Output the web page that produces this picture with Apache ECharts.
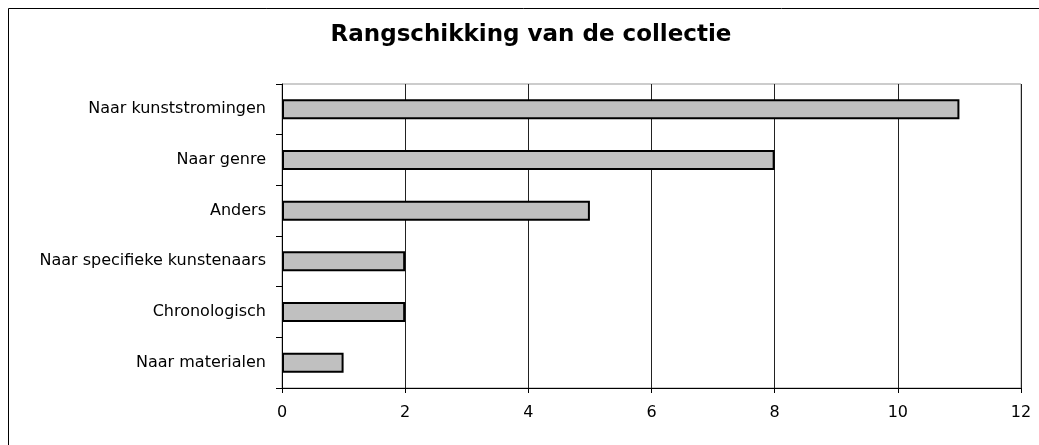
<!DOCTYPE html>
<html>
<head>
<meta charset="utf-8">
<script src="https://cdn.jsdelivr.net/npm/echarts@6/dist/echarts.min.js"></script>
<style>html,body{margin:0;padding:0;background:#fff;}#c{width:1039px;height:445px;}</style>
</head>
<body>
<div id="c"></div>
<script>
const titleText = 'Rangschikking van de collectie';
const categories = ['Naar kunststromingen', 'Naar genre', 'Anders', 'Naar specifieke kunstenaars', 'Chronologisch', 'Naar materialen'];
const values = [11, 8, 5, 2, 2, 1];
const xTicks = [0, 2, 4, 6, 8, 10, 12];

const chart = echarts.init(document.getElementById('c'), null, {renderer: 'canvas'});
chart.setOption({
  animation: false,
  backgroundColor: '#fff',
  title: {
    text: titleText,
    left: 531, top: 24, padding: 0, textAlign: 'center',
    textStyle: {fontFamily: 'DejaVu Sans', fontWeight: 'bold', fontSize: 23, color: '#000'}
  },
  graphic: [{
    type: 'polyline', silent: true,
    shape: {points: [[8.5, 445], [8.5, 8.5], [1039, 8.5]]},
    style: {stroke: '#000', lineWidth: 1, fill: null}
  }],
  grid: {left: 282, right: 18, top: 84, bottom: 57, show: true, borderColor: '#999', borderWidth: 1, containLabel: false},
  xAxis: {
    type: 'value', min: xTicks[0], max: xTicks[xTicks.length - 1], interval: 2,
    axisLine: {show: true, lineStyle: {color: '#000', width: 1}},
    axisTick: {show: true, length: 5, lineStyle: {color: '#000'}},
    splitLine: {show: true, lineStyle: {color: '#222', width: 1}},
    axisLabel: {fontFamily: 'DejaVu Sans', fontSize: 16, color: '#000', margin: 17}
  },
  yAxis: {
    type: 'category', data: categories, inverse: true,
    axisLine: {show: true, lineStyle: {color: '#000', width: 1}},
    axisTick: {show: true, length: 6, alignWithLabel: false, lineStyle: {color: '#000'}},
    splitLine: {show: false},
    axisLabel: {fontFamily: 'DejaVu Sans', fontSize: 16, color: '#000', margin: 16}
  },
  series: [{
    type: 'bar', data: values, barWidth: 20,
    itemStyle: {color: '#c0c0c0', borderColor: '#000', borderWidth: 2}
  }]
});
</script>
</body>
</html>
